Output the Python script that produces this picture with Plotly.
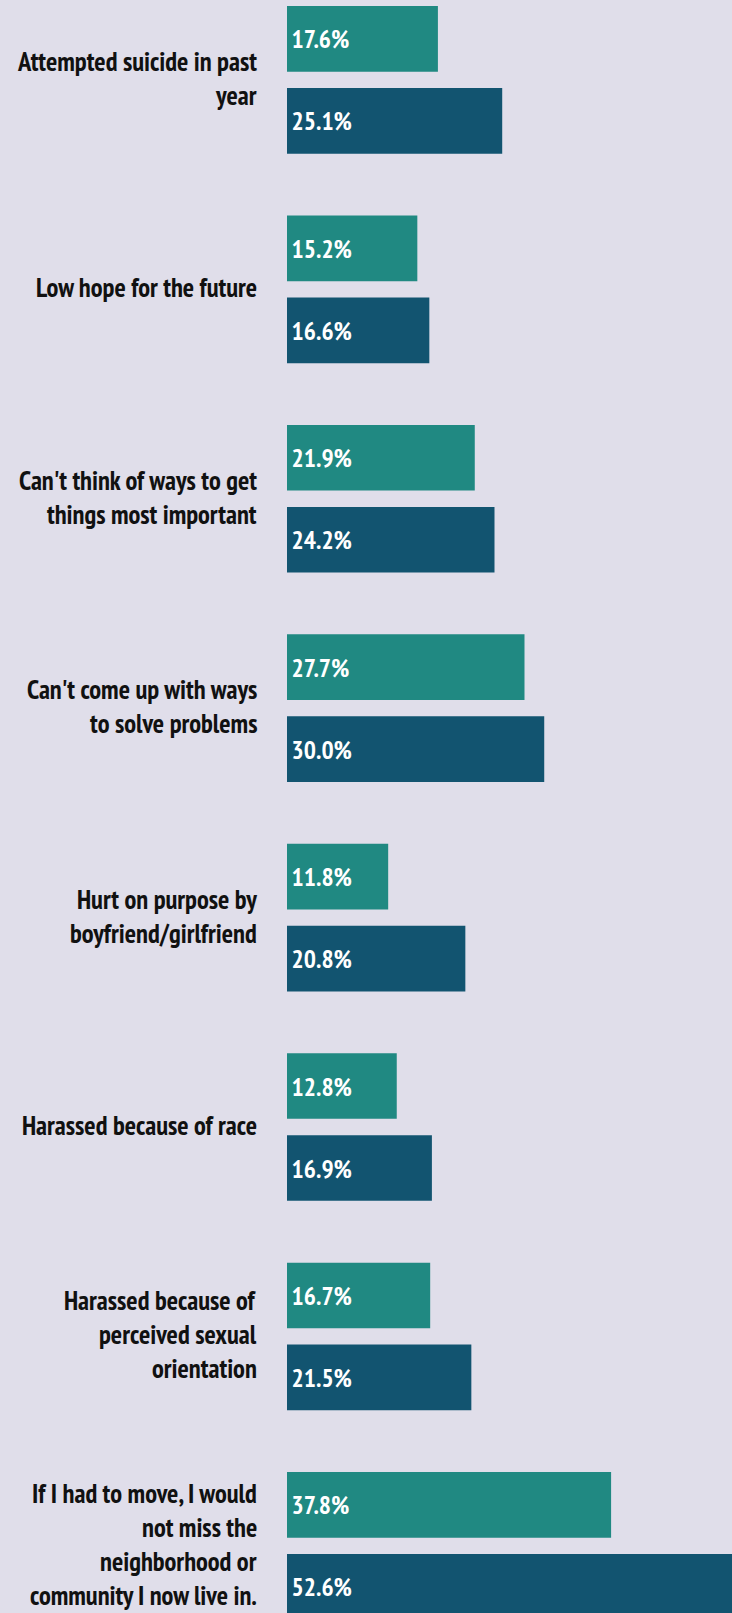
import plotly.graph_objects as go

categories = [
    "Attempted suicide in past year",
    "Low hope for the future",
    "Can't think of ways to get things most important",
    "Can't come up with ways to solve problems",
    "Hurt on purpose by boyfriend/girlfriend",
    "Harassed because of race",
    "Harassed because of perceived sexual orientation",
    "If I had to move, I would not miss the neighborhood or community I now live in.",
]
label_lines = [
    ["Attempted suicide in past", "year"],
    ["Low hope for the future"],
    ["Can't think of ways to get", "things most important"],
    ["Can't come up with ways", "to solve problems"],
    ["Hurt on purpose by", "boyfriend/girlfriend"],
    ["Harassed because of race"],
    ["Harassed because of", "perceived sexual", "orientation"],
    ["If I had to move, I would", "not miss the", "neighborhood or", "community I now live in."],
]
series_a = [17.6, 15.2, 21.9, 27.7, 11.8, 12.8, 16.7, 37.8]
series_b = [25.1, 16.6, 24.2, 30.0, 20.8, 16.9, 21.5, 52.6]

FONT = "Liberation Sans Narrow, PT Sans Narrow, DejaVu Sans Condensed, Arial Narrow, sans-serif"

fig = go.Figure()
fig.add_trace(go.Bar(
    y=categories, x=series_a, orientation="h", name="A",
    marker=dict(color="#208982", line=dict(width=0)),
    texttemplate="\u200a%{x:.1f}%", textposition="inside", insidetextanchor="start",
    textfont=dict(family=FONT, size=25.5, color="white", weight="bold"),
    hoverinfo="skip", cliponaxis=True,
))
fig.add_trace(go.Bar(
    y=categories, x=series_b, orientation="h", name="B",
    marker=dict(color="#125470", line=dict(width=0)),
    texttemplate="\u200a%{x:.1f}%", textposition="inside", insidetextanchor="start",
    textfont=dict(family=FONT, size=25.5, color="white", weight="bold"),
    hoverinfo="skip", cliponaxis=True,
))

LINE_H = 34
for cat, lines in zip(categories, label_lines):
    n = len(lines)
    for i, ln in enumerate(lines):
        fig.add_annotation(
            x=0, xref="x", y=cat, yref="y",
            text=ln, showarrow=False, xanchor="right", yanchor="middle",
            xshift=-28, yshift=-(i - (n - 1) / 2) * LINE_H + 2,
            font=dict(family=FONT, size=26.5, color="#111111", weight="bold"),
        )

fig.update_layout(
    width=732, height=1613,
    margin=dict(l=287, r=0, t=0, b=0),
    barmode="group", bargap=0.217, bargroupgap=0.199,
    paper_bgcolor="#e0deea", plot_bgcolor="#e0deea",
    showlegend=False,
    xaxis=dict(range=[0, 51.9], visible=False, fixedrange=True),
    yaxis=dict(type="category", categoryorder="array", categoryarray=categories,
               range=[7.3204, -0.3813], visible=False, fixedrange=True),
)

fig.write_html("out.html", config={"displayModeBar": False})
